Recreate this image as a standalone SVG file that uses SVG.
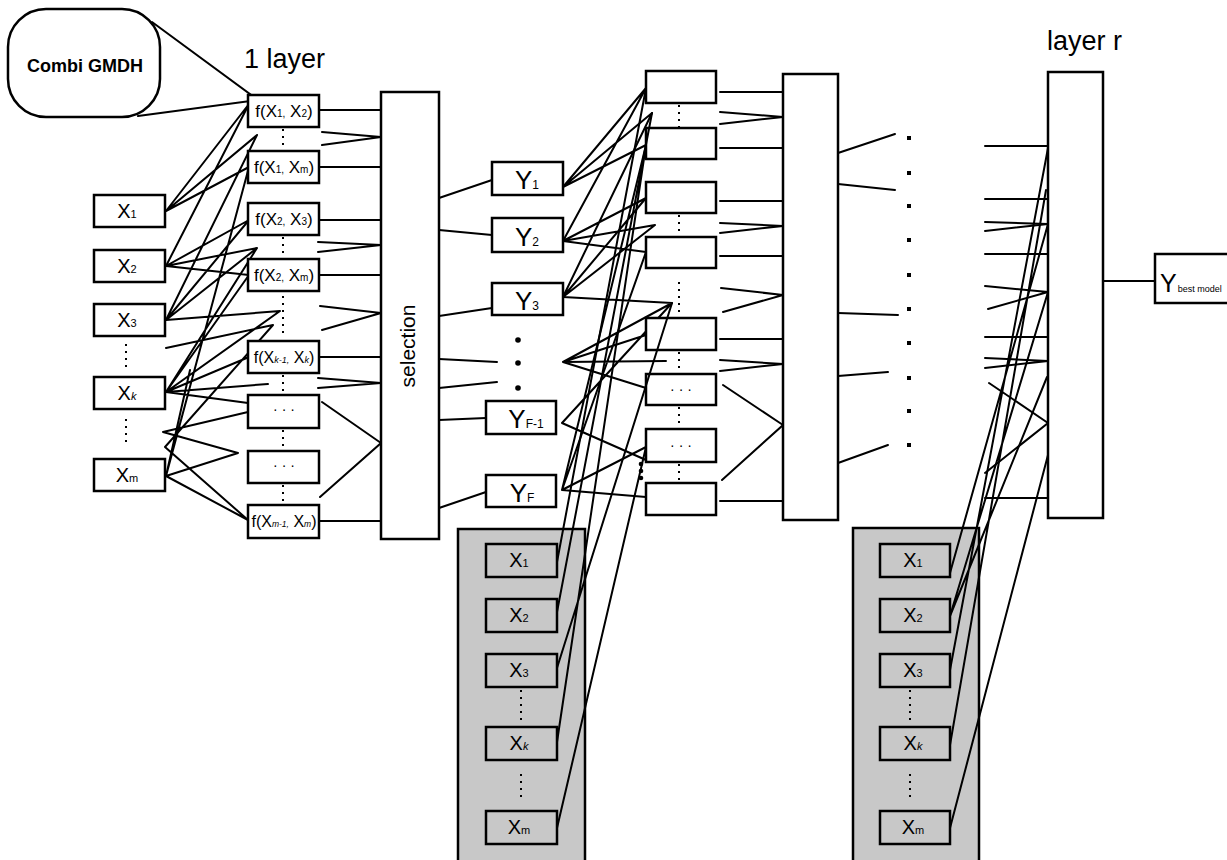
<svg xmlns="http://www.w3.org/2000/svg" width="1227" height="860" viewBox="0 0 1227 860">
<style>
.b{fill:#fff;stroke:#000;stroke-width:2.5}
.g{fill:#c8c8c8;stroke:#000;stroke-width:2.5}
.t{font-family:"Liberation Sans",Arial,sans-serif;fill:#000}
.l{stroke:#000;stroke-width:2;fill:none;stroke-linecap:round}
.d{stroke:#000;stroke-width:2;stroke-dasharray:2 5;fill:none}
.dd{fill:#000}
</style>
<rect width="1227" height="860" fill="#fff"/>

<g id="callout">
<path class="l" d="M152,22 L258,100 L138,116"/>
<rect class="b" x="8" y="9" width="152" height="108" rx="38"/>
<text class="t" x="85" y="72" font-size="18" font-weight="bold" text-anchor="middle">Combi GMDH</text>
</g>
<text class="t" x="244" y="68" font-size="27">1 layer</text>
<text class="t" x="1047" y="50" font-size="27">layer r</text>

<g id="connectors">
<path class="l" d="M166,211L249,104M166,211L257,135M166,211L249,167
M166,266L249,104M166,266L249,220M166,266L257,248M166,266L249,275
M166,320L257,135M166,320L249,220M166,320L257,248M166,320L280,311
M166,348L273,325
M166,392L257,248M166,392L249,275M166,392L249,357M166,392L268,384M166,392L248,403M166,392L280,311
M163,432L248,412M163,432L238,453
M165,447L273,325M165,447L248,520
M166,476L238,453M166,476L248,520M166,476L249,167M166,476L190,370"/>
<path class="l" d="M319,110H381M322,132L381,137L322,145M319,167H381M319,220H381M318,242L381,245L318,252M319,275H381
M320,306L381,313L322,330M319,357H381M318,378L381,383L318,388M322,402L381,443L320,497M319,521H381"/>
<path class="l" d="M439,198L492,180M439,230L492,235M439,316L492,308M439,359L497,362M439,388L497,382M439,420L486,418M439,508L486,492"/>
<path class="l" d="M563,187L646,88M563,187L652,113M563,187L646,145
M563,241L646,88M563,241L646,198M563,241L655,225M563,241L646,252
M563,297L652,113M563,297L646,198M563,297L655,225M563,297L672,303
M563,362L672,303M563,362L646,335M563,362L666,361M563,362L646,388
M562,423L672,303M562,423L646,460
M562,490L646,145M562,490L646,252M562,490L646,447M562,490L646,497"/>
<path class="l" d="M720,92H783M720,112L783,117L720,124M720,148H783M720,201H783M720,223L783,226L720,233M720,256H783
M721,288L783,295L723,312M720,339H783M720,360L783,364L720,371M723,385L783,425L722,480M720,501H783"/>
<path class="l" d="M838,153L895,134M838,184L895,190M838,313L898,315M838,376L888,372M838,463L888,445"/>
<path class="l" d="M985,146H1048M985,199H1048M985,222L1048,224L985,231M985,254H1048M985,286L1048,292L988,309M985,337H1048
M985,358L1048,361L985,368M989,383L1048,423L985,473M985,498H1048"/>
<path class="l" d="M1103,281H1155"/>
<path class="d" d="M283,129V151M283,237V259M283,296V336M283,375V395M283,430V451M283,485V505
M679,105V128M679,215V237M679,282V316M679,352V374M679,407V429M679,464V483"/>
<path class="d" d="M126,344V372M126,419V447"/>
</g>

<g id="dots-y" class="dd">
<circle cx="518" cy="340" r="2.8"/><circle cx="518" cy="363" r="2.8"/><circle cx="518" cy="388" r="2.8"/>
<circle cx="641" cy="464" r="2.3"/><circle cx="641" cy="471" r="2.3"/><circle cx="641" cy="478" r="2.3"/>
</g>
<g id="dots-r" class="dd">
<rect x="907" y="136" width="4" height="4"/><rect x="907" y="171" width="4" height="4"/><rect x="907" y="204" width="4" height="4"/>
<rect x="907" y="238" width="4" height="4"/><rect x="907" y="273" width="4" height="4"/><rect x="907" y="307" width="4" height="4"/>
<rect x="907" y="341" width="4" height="4"/><rect x="907" y="376" width="4" height="4"/><rect x="907" y="409" width="4" height="4"/>
<rect x="907" y="443" width="4" height="4"/>
</g>

<g id="x1"><rect class="b" x="94" y="195" width="71" height="32"/><text class="t" x="127" y="218" font-size="20" text-anchor="middle">X<tspan font-size="11">1</tspan></text></g>
<g id="x2"><rect class="b" x="94" y="250" width="71" height="32"/><text class="t" x="127" y="273" font-size="20" text-anchor="middle">X<tspan font-size="11">2</tspan></text></g>
<g id="x3"><rect class="b" x="94" y="304" width="71" height="32"/><text class="t" x="127" y="327" font-size="20" text-anchor="middle">X<tspan font-size="11">3</tspan></text></g>
<g id="xk"><rect class="b" x="94" y="377" width="71" height="32"/><text class="t" x="127" y="400" font-size="20" text-anchor="middle">X<tspan font-size="11" font-style="italic">k</tspan></text></g>
<g id="xm"><rect class="b" x="94" y="459" width="71" height="32"/><text class="t" x="127" y="482" font-size="20" text-anchor="middle">X<tspan font-size="11">m</tspan></text></g>

<g id="f12"><rect class="b" x="248" y="95" width="71" height="32"/><text class="t" x="284" y="117" font-size="17" text-anchor="middle">f(X<tspan font-size="10">1,</tspan> X<tspan font-size="10">2</tspan>)</text></g>
<g id="f1m"><rect class="b" x="248" y="151" width="71" height="32"/><text class="t" x="284" y="173" font-size="17" text-anchor="middle">f(X<tspan font-size="10">1,</tspan> X<tspan font-size="10">m</tspan>)</text></g>
<g id="f23"><rect class="b" x="248" y="203" width="71" height="32"/><text class="t" x="284" y="225" font-size="17" text-anchor="middle">f(X<tspan font-size="10">2,</tspan> X<tspan font-size="10">3</tspan>)</text></g>
<g id="f2m"><rect class="b" x="248" y="259" width="71" height="32"/><text class="t" x="284" y="281" font-size="17" text-anchor="middle">f(X<tspan font-size="10">2,</tspan> X<tspan font-size="10">m</tspan>)</text></g>
<g id="fk"><rect class="b" x="248" y="341" width="71" height="32"/><text class="t" x="284" y="363" font-size="16" text-anchor="middle">f(X<tspan font-size="9" font-style="italic">k-1,</tspan> X<tspan font-size="9" font-style="italic">k</tspan>)</text></g>
<g id="fd1"><rect class="b" x="248" y="395" width="71" height="33"/><text class="t" x="284" y="414" font-size="14" text-anchor="middle">· · ·</text></g>
<g id="fd2"><rect class="b" x="248" y="451" width="71" height="32"/><text class="t" x="284" y="470" font-size="14" text-anchor="middle">· · ·</text></g>
<g id="fm"><rect class="b" x="248" y="505" width="71" height="33"/><text class="t" x="284" y="527" font-size="16" text-anchor="middle">f(X<tspan font-size="8.5" font-style="italic">m-1,</tspan> X<tspan font-size="8.5" font-style="italic">m</tspan>)</text></g>

<g id="selection"><rect class="b" x="381" y="92" width="58" height="447"/><text class="t" font-size="21" text-anchor="middle" transform="translate(415,346) rotate(-90)">selection</text></g>

<g id="y1"><rect class="b" x="492" y="162" width="71" height="33"/><text class="t" x="527" y="189" font-size="26" text-anchor="middle">Y<tspan font-size="12">1</tspan></text></g>
<g id="y2"><rect class="b" x="492" y="218" width="71" height="34"/><text class="t" x="527" y="246" font-size="26" text-anchor="middle">Y<tspan font-size="12">2</tspan></text></g>
<g id="y3"><rect class="b" x="492" y="283" width="71" height="32"/><text class="t" x="527" y="310" font-size="26" text-anchor="middle">Y<tspan font-size="12">3</tspan></text></g>
<g id="yf1"><rect class="b" x="486" y="401" width="70" height="33"/><text class="t" x="526" y="428" font-size="26" text-anchor="middle">Y<tspan font-size="12">F-1</tspan></text></g>
<g id="yf"><rect class="b" x="486" y="475" width="70" height="32"/><text class="t" x="522" y="502" font-size="26" text-anchor="middle">Y<tspan font-size="12">F</tspan></text></g>

<g id="l2b1"><rect class="b" x="646" y="71" width="70" height="32"/></g>
<g id="l2b2"><rect class="b" x="646" y="128" width="70" height="31"/></g>
<g id="l2b3"><rect class="b" x="646" y="182" width="70" height="31"/></g>
<g id="l2b4"><rect class="b" x="646" y="237" width="70" height="31"/></g>
<g id="l2b5"><rect class="b" x="646" y="318" width="70" height="32"/></g>
<g id="l2b6"><rect class="b" x="646" y="374" width="70" height="31"/><text class="t" x="681" y="394" font-size="14" text-anchor="middle">· · ·</text></g>
<g id="l2b7"><rect class="b" x="646" y="429" width="70" height="33"/><text class="t" x="681" y="450" font-size="14" text-anchor="middle">· · ·</text></g>
<g id="l2b8"><rect class="b" x="646" y="483" width="70" height="32"/></g>

<g id="sel2"><rect class="b" x="783" y="74" width="55" height="446"/></g>
<g id="layerr"><rect class="b" x="1048" y="72" width="55" height="446"/></g>

<g id="ybest"><rect class="b" x="1155" y="254" width="85" height="49"/><text class="t" x="1160" y="292" font-size="25">Y<tspan font-size="9" dx="1">best model</tspan></text></g>

<g id="gray1">
<rect class="g" x="458" y="529" width="127" height="340"/>
<rect class="g" x="486" y="544" width="71" height="33"/><text class="t" x="519" y="567" font-size="20" text-anchor="middle">X<tspan font-size="11">1</tspan></text>
<rect class="g" x="486" y="599" width="71" height="33"/><text class="t" x="519" y="622" font-size="20" text-anchor="middle">X<tspan font-size="11">2</tspan></text>
<rect class="g" x="486" y="654" width="71" height="33"/><text class="t" x="519" y="677" font-size="20" text-anchor="middle">X<tspan font-size="11">3</tspan></text>
<rect class="g" x="486" y="727" width="71" height="33"/><text class="t" x="519" y="750" font-size="20" text-anchor="middle">X<tspan font-size="11" font-style="italic">k</tspan></text>
<rect class="g" x="486" y="811" width="71" height="33"/><text class="t" x="519" y="834" font-size="20" text-anchor="middle">X<tspan font-size="11">m</tspan></text>
</g>
<g id="gray2">
<rect class="g" x="853" y="528" width="126" height="340"/>
<rect class="g" x="880" y="544" width="70" height="33"/><text class="t" x="913" y="567" font-size="20" text-anchor="middle">X<tspan font-size="11">1</tspan></text>
<rect class="g" x="880" y="599" width="70" height="33"/><text class="t" x="913" y="622" font-size="20" text-anchor="middle">X<tspan font-size="11">2</tspan></text>
<rect class="g" x="880" y="654" width="70" height="33"/><text class="t" x="913" y="677" font-size="20" text-anchor="middle">X<tspan font-size="11">3</tspan></text>
<rect class="g" x="880" y="727" width="70" height="33"/><text class="t" x="913" y="750" font-size="20" text-anchor="middle">X<tspan font-size="11" font-style="italic">k</tspan></text>
<rect class="g" x="880" y="811" width="70" height="33"/><text class="t" x="913" y="834" font-size="20" text-anchor="middle">X<tspan font-size="11">m</tspan></text>
</g>
<g id="gray-connectors">
<path class="d" d="M521,690V722M521,774V800M910,690V722M910,774V800"/>
<path class="l" d="M557,562L646,88M557,612L652,113M557,668L672,303M557,742L646,145M557,828L646,447M950,573L1048,224M950,616L1048,292M950,616L1047,377M950,670L1048,148M950,745L1046,190M950,828L1048,455"/>
</g>
</svg>
